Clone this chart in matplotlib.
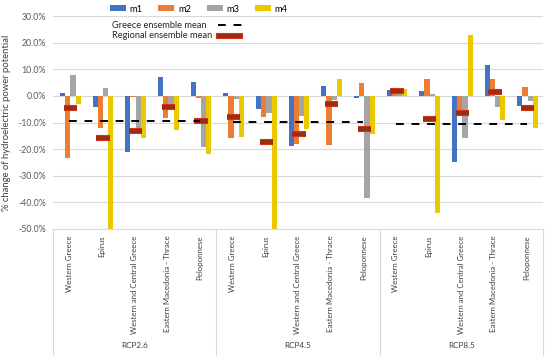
import numpy as np
import matplotlib.pyplot as plt
from matplotlib.lines import Line2D
from matplotlib import patheffects as pe

plt.rcParams['font.family'] = ['Lato', 'DejaVu Sans']

scenarios = ['RCP2.6', 'RCP4.5', 'RCP8.5']
regions = ['Western Greece', 'Epirus', 'Western and Central Greece',
           'Eastern Macedonia - Thrace', 'Peloponnese']

# % change per model, 15 values each (5 regions x 3 scenarios)
m1 = [1.0, -4.0, -21.0, 7.2, 5.2,
      1.2, -4.8, -19.0, 3.8, -0.8,
      2.2, 1.8, -24.7, 11.7, -3.9]
m2 = [-23.5, -12.0, -0.5, -8.2, -0.8,
      -16.0, -8.0, -18.0, -18.5, 4.7,
      2.4, 6.2, -6.0, 6.2, 3.2]
m3 = [7.8, 3.1, -14.5, -4.5, -19.3,
      -1.2, -6.5, -7.5, -1.5, -38.5,
      1.0, 0.8, -16.0, -4.1, -2.0]
m4 = [-3.0, -50.0, -15.8, -13.0, -22.0,
      -15.6, -50.0, -12.6, 6.2, -14.5,
      2.6, -44.0, 22.8, -9.1, -11.9]
regional_mean = [-4.4, -15.7, -13.2, -4.3, -9.3,
                 -7.9, -17.3, -14.5, -2.9, -12.3,
                 1.7, -8.5, -6.3, 1.4, -4.7]
greece_mean = [-9.5, -9.8, -10.4]

colors = ['#4472C4', '#ED7D31', '#A5A5A5', '#EBC800']
models = ['m1', 'm2', 'm3', 'm4']
series = [m1, m2, m3, m4]

fig = plt.figure(figsize=(5.5, 3.56), dpi=100)
ax = fig.add_axes([53 / 550, 1 - 229 / 356, 490 / 550, 213 / 356])

x = np.arange(len(m1))
w = 0.16
bars = []
for k, (vals, c) in enumerate(zip(series, colors)):
    b = ax.bar(x + (k - 1.5) * w + 0.03, vals, w, color=c, zorder=2)
    bars.append(b)

# regional ensemble mean markers
ax.hlines(regional_mean, x - 0.2 + 0.03, x + 0.2 + 0.03, color='#9A2E10', lw=3.2, zorder=4,
          path_effects=[pe.Stroke(linewidth=4.4, foreground='#E8321C'), pe.Normal()])

# Greece ensemble mean per scenario
for g, val in enumerate(greece_mean):
    ax.plot([g * 5, g * 5 + 4], [val, val], color='black', lw=1.4,
            dashes=(4, 4), zorder=5)

ax.set_xlim(-0.5, 14.5)
ax.set_ylim(-50, 30)
ax.set_yticks(np.arange(-50, 31, 10))
ax.set_yticklabels(['%.1f%%' % v for v in np.arange(-50, 31, 10)])
ax.tick_params(axis='y', length=0, labelsize=6.3, labelcolor='#595959', pad=5)
ax.set_xticks([])
ax.grid(axis='y', color='#D9D9D9', lw=0.8, zorder=0)
for s in ['top', 'right', 'left']:
    ax.spines[s].set_visible(False)
ax.spines['bottom'].set_color('#D9D9D9')
ax.set_ylabel('% change of hydroelectric power potential', fontsize=6.8, color='#404040', labelpad=5)

trans = ax.get_xaxis_transform()
for i in range(len(m1)):
    ax.text(i, -0.03, regions[i % 5], rotation=90, ha='center', va='top',
            fontsize=5.7, color='#404040', transform=trans)
for g, name in enumerate(scenarios):
    ax.text(g * 5 + 2, -0.545, name, ha='center', va='center', fontsize=5.9,
            color='#404040', transform=trans)
for b in [-0.5, 4.5, 9.5, 14.5]:
    ax.plot([b, b], [0, -0.6], color='#D9D9D9', lw=0.8, transform=trans, clip_on=False)

# legend
fig.legend(bars, models, loc='center left', bbox_to_anchor=(110 / 550, 1 - 9 / 356),
           ncol=4, frameon=False, fontsize=6.7, handlelength=1.7, handleheight=0.6,
           handletextpad=0.4, columnspacing=1.7, borderpad=0, borderaxespad=0)
fig.text(112 / 550, 1 - 25 / 356, 'Greece ensemble mean', fontsize=6.7, va='center', color='#262626')
fig.text(112 / 550, 1 - 36 / 356, 'Regional ensemble mean', fontsize=6.7, va='center', color='#262626')
fig.add_artist(Line2D([218 / 550, 248 / 550], [1 - 25 / 356] * 2, color='black', lw=1.4,
                      dashes=(4, 4), transform=fig.transFigure))
fig.add_artist(Line2D([219 / 550, 240 / 550], [1 - 36 / 356] * 2, color='#9A2E10', lw=3.2,
                      transform=fig.transFigure,
                      path_effects=[pe.Stroke(linewidth=4.4, foreground='#E8321C'), pe.Normal()]))

fig.savefig('out.png', dpi=100)
